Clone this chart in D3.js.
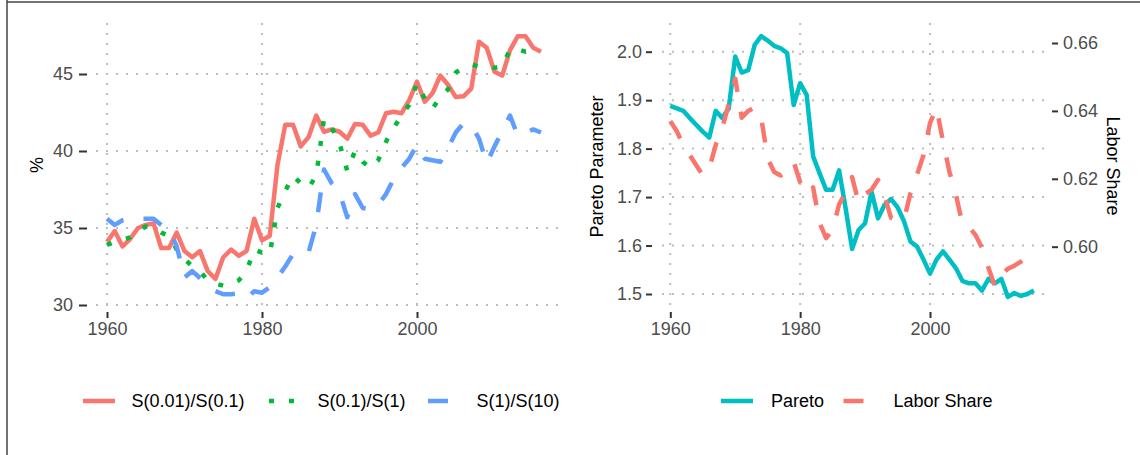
<!DOCTYPE html>
<html>
<head>
<meta charset="utf-8">
<script src="https://cdn.jsdelivr.net/npm/d3@7"></script>
<style>
  html, body { margin: 0; padding: 0; background: #fff; }
  svg { display: block; font-family: "Liberation Sans", Arial, Helvetica, sans-serif; }
</style>
</head>
<body>
<svg id="chart" width="1140" height="455"></svg>
<script>
// ---------- DATA ----------
const yearsLeft = d3.range(1960, 2017);
const s001_s01 = [34.1, 34.8, 33.8, 34.3, 35.0, 35.2, 35.3, 33.7, 33.7, 34.7,
  33.5, 33.1, 33.5, 32.2, 31.7, 33.1, 33.6, 33.2, 33.5, 35.6,
  34.2, 34.5, 39.1, 41.7, 41.7, 40.3, 40.9, 42.3, 41.25, 41.4,
  41.25, 40.8, 41.75, 41.7, 41.0, 41.2, 42.45, 42.55, 42.45, 43.3,
  44.5, 43.2, 43.75, 44.9, 44.3, 43.5, 43.55, 44.05, 47.1, 46.7,
  45.15, 44.9, 46.55, 47.45, 47.45, 46.7, 46.45];
const s01_s1 = [33.9, 34.1, 34.2, 34.4, 34.8, 35.1, 35.0, 34.7, 34.5, 33.6,
  33.0, 32.5, 32.2, 31.6, 31.4, 31.25, 31.4, 31.6, 32.2, 33.6,
  33.4, 33.3, 36.3, 37.4, 38.4, 37.9, 37.6, 38.4, 42.1, 41.5,
  40.5, 38.7, 40.0, 39.3, 38.9, 39.4, 40.6, 41.5, 42.3, 43.0,
  44.4, 43.4, 42.75, 43.5, 44.0, 45.1, 45.4, 45.6, 45.5, 45.5,
  45.4, 45.5, 46.6, 46.6, 46.45, 46.5, 46.5];
const s1_s10 = [35.6, 35.2, 35.5, 35.6, 35.6, 35.6, 35.6, 35.2, 34.9, 33.8,
  31.8, 32.2, 31.75, 31.3, 30.9, 30.7, 30.7, 30.75, 30.4, 30.9,
  30.8, 31.15, 31.8, 32.5, 33.3, 33.5, 33.4, 35.2, 38.8, 37.9,
  37.3, 35.7, 37.2, 36.3, 36.2, 36.5, 37.2, 38.2, 38.9, 39.5,
  40.4, 39.5, 39.4, 39.3, 40.2, 41.2, 41.8, 41.7, 40.8, 39.2,
  40.3, 41.3, 42.3, 41.0, 41.2, 41.4, 41.2];

const yearsPareto = d3.range(1960, 2017);
const pareto = [1.888, 1.883, 1.878, 1.863, 1.849, 1.835, 1.823, 1.878, 1.863, 1.883,
  1.990, 1.957, 1.962, 2.014, 2.032, 2.023, 2.012, 2.007, 1.997, 1.890,
  1.935, 1.911, 1.784, 1.749, 1.715, 1.715, 1.755, 1.677, 1.593, 1.632,
  1.646, 1.711, 1.656, 1.684, 1.696, 1.679, 1.650, 1.608, 1.598, 1.571,
  1.542, 1.571, 1.588, 1.571, 1.553, 1.527, 1.522, 1.522, 1.507, 1.531,
  1.522, 1.531, 1.494, 1.502, 1.496, 1.500, 1.507];
const yearsLabor = d3.range(1960, 2016);
const laborShare = [0.637, 0.634, 0.630, 0.627, 0.624, 0.621, 0.623, 0.630, 0.635, 0.642,
  0.6495, 0.638, 0.640, 0.641, 0.638, 0.626, 0.622, 0.621, 0.6225, 0.625,
  0.619, 0.6155, 0.6175, 0.607, 0.6025, 0.605, 0.6125, 0.616, 0.6205, 0.613,
  0.6155, 0.6168, 0.6197, 0.615, 0.6085, 0.6077, 0.608, 0.6158, 0.6212, 0.627,
  0.6364, 0.641, 0.631, 0.622, 0.6153, 0.6065, 0.6058, 0.6035, 0.5997, 0.5938,
  0.5883, 0.5918, 0.5935, 0.5944, 0.5956, 0.597];

const xTicks = [1960, 1980, 2000];
const pctTicks = [30, 35, 40, 45];
const paretoTicks = [1.5, 1.6, 1.7, 1.8, 1.9, 2.0];
const laborTicks = [0.60, 0.62, 0.64, 0.66];

const leftSeries = [
  { name: "S(0.01)/S(0.1)", values: s001_s01, color: "#F8766D", dash: null },
  { name: "S(0.1)/S(1)", values: s01_s1, color: "#00BA38", dash: "5,15" },
  { name: "S(1)/S(10)", values: s1_s10, color: "#619CFF", dash: "20,20" }
];

// ---------- SETUP ----------
const svg = d3.select("#chart");
const FONT = 18;
const LW = 4.5;
const gridColor = "#bdbdbd";
const tickColor = "#333333";
const labelColor = "#4d4d4d";

// outer frame lines
svg.append("line").attr("x1", 7).attr("x2", 7).attr("y1", 0).attr("y2", 455)
  .attr("stroke", "#444").attr("stroke-width", 1.5);
svg.append("line").attr("x1", 7).attr("x2", 1140).attr("y1", 2).attr("y2", 2)
  .attr("stroke", "#444").attr("stroke-width", 1.5);

// ---------- LEFT PANEL ----------
const xL = d3.scaleLinear().domain([1960, 2000]).range([107, 417]);
const yL = d3.scaleLinear().domain([30, 45]).range([305, 74]);
const gL = svg.append("g");

gL.selectAll(".hg").data(pctTicks).join("line")
  .attr("x1", 96).attr("x2", 560).attr("y1", d => yL(d)).attr("y2", d => yL(d))
  .attr("stroke", gridColor).attr("stroke-width", 2).attr("stroke-dasharray", "2,8");
gL.selectAll(".vg").data(xTicks).join("line")
  .attr("x1", d => xL(d)).attr("x2", d => xL(d)).attr("y1", 23).attr("y2", 307)
  .attr("stroke", gridColor).attr("stroke-width", 2).attr("stroke-dasharray", "2,8");

// y axis
const yAxisL = d3.axisLeft(yL).tickValues(pctTicks).tickSize(8).tickPadding(6).tickFormat(d3.format("d"));
const gyL = gL.append("g").attr("transform", "translate(87,0)").call(yAxisL);
gyL.select(".domain").remove();
gyL.selectAll(".tick line").attr("stroke", tickColor).attr("stroke-width", 2);
gyL.selectAll(".tick text").attr("fill", labelColor).attr("font-size", FONT).attr("font-family", null);

// x axis
const xAxisL = d3.axisBottom(xL).tickValues(xTicks).tickSize(6).tickPadding(4).tickFormat(d3.format("d"));
const gxL = gL.append("g").attr("transform", "translate(0,312)").call(xAxisL);
gxL.select(".domain").remove();
gxL.selectAll(".tick line").attr("stroke", tickColor).attr("stroke-width", 2);
gxL.selectAll(".tick text").attr("fill", labelColor).attr("font-size", FONT).attr("font-family", null);

gL.append("text").attr("transform", "translate(37,165) rotate(-90)")
  .attr("text-anchor", "middle").attr("dominant-baseline", "central")
  .attr("font-size", FONT).attr("fill", "#000").text("%");

const lineL = d3.line().x((d, i) => xL(yearsLeft[i])).y(d => yL(d));
leftSeries.forEach(s => {
  gL.append("path").datum(s.values).attr("d", lineL)
    .attr("fill", "none").attr("stroke", s.color).attr("stroke-width", LW)
    .attr("stroke-linejoin", "round").attr("stroke-linecap", "butt")
    .attr("stroke-dasharray", s.dash);
});

// left legend (clipped like the reference)
svg.append("clipPath").attr("id", "clipL").append("rect")
  .attr("x", 0).attr("y", 360).attr("width", 561).attr("height", 80);
const legL = svg.append("g").attr("clip-path", "url(#clipL)");
const legLX = [83, 269, 428];
leftSeries.forEach((s, i) => {
  legL.append("line").attr("x1", legLX[i]).attr("x2", legLX[i] + 32)
    .attr("y1", 401).attr("y2", 401)
    .attr("stroke", s.color).attr("stroke-width", LW).attr("stroke-dasharray", s.dash);
  legL.append("text").attr("x", legLX[i] + 48.5).attr("y", 401)
    .attr("dominant-baseline", "central").attr("font-size", FONT).attr("fill", "#000")
    .text(s.name);
});

// ---------- RIGHT PANEL ----------
const xR = d3.scaleLinear().domain([1960, 2000]).range([670.3, 930]);
const yP = d3.scaleLinear().domain([1.5, 2.0]).range([294, 51.7]);
const yS = d3.scaleLinear().domain([0.60, 0.66]).range([246.7, 43]);
const gR = svg.append("g");

gR.selectAll(".hg").data(paretoTicks).join("line")
  .attr("x1", 662).attr("x2", 1045).attr("y1", d => yP(d)).attr("y2", d => yP(d))
  .attr("stroke", gridColor).attr("stroke-width", 2).attr("stroke-dasharray", "2,8");
gR.selectAll(".vg").data(xTicks).join("line")
  .attr("x1", d => xR(d)).attr("x2", d => xR(d)).attr("y1", 23).attr("y2", 307)
  .attr("stroke", gridColor).attr("stroke-width", 2).attr("stroke-dasharray", "2,8");

const yAxisP = d3.axisLeft(yP).tickValues(paretoTicks).tickSize(6).tickPadding(4).tickFormat(d3.format(".1f"));
const gyP = gR.append("g").attr("transform", "translate(652,0)").call(yAxisP);
gyP.select(".domain").remove();
gyP.selectAll(".tick line").attr("stroke", tickColor).attr("stroke-width", 2);
gyP.selectAll(".tick text").attr("fill", labelColor).attr("font-size", FONT).attr("font-family", null);

const yAxisS = d3.axisRight(yS).tickValues(laborTicks).tickSize(6).tickPadding(5).tickFormat(d3.format(".2f"));
const gyS = gR.append("g").attr("transform", "translate(1052,0)").call(yAxisS);
gyS.select(".domain").remove();
gyS.selectAll(".tick line").attr("stroke", tickColor).attr("stroke-width", 2);
gyS.selectAll(".tick text").attr("fill", labelColor).attr("font-size", FONT).attr("font-family", null);

const xAxisR = d3.axisBottom(xR).tickValues(xTicks).tickSize(6).tickPadding(4).tickFormat(d3.format("d"));
const gxR = gR.append("g").attr("transform", "translate(0,312)").call(xAxisR);
gxR.select(".domain").remove();
gxR.selectAll(".tick line").attr("stroke", tickColor).attr("stroke-width", 2);
gxR.selectAll(".tick text").attr("fill", labelColor).attr("font-size", FONT).attr("font-family", null);

gR.append("text").attr("transform", "translate(597,166.5) rotate(-90)")
  .attr("text-anchor", "middle").attr("dominant-baseline", "central")
  .attr("font-size", FONT).attr("fill", "#000").text("Pareto Parameter");
gR.append("text").attr("transform", "translate(1113,166) rotate(90)")
  .attr("text-anchor", "middle").attr("dominant-baseline", "central")
  .attr("font-size", FONT).attr("fill", "#000").text("Labor Share");

const lineP = d3.line().x((d, i) => xR(yearsPareto[i])).y(d => yP(d));
const lineS = d3.line().x((d, i) => xR(yearsLabor[i])).y(d => yS(d));
gR.append("path").datum(pareto).attr("d", lineP)
  .attr("fill", "none").attr("stroke", "#00BFC4").attr("stroke-width", LW)
  .attr("stroke-linejoin", "round");
gR.append("path").datum(laborShare).attr("d", lineS)
  .attr("fill", "none").attr("stroke", "#F8766D").attr("stroke-width", LW)
  .attr("stroke-linejoin", "round").attr("stroke-dasharray", "20,20");

// right legend
const rightLegend = [
  { name: "Pareto", color: "#00BFC4", dash: null, x: 721 },
  { name: "Labor Share", color: "#F8766D", dash: "20,20", x: 843.5 }
];
rightLegend.forEach(s => {
  svg.append("line").attr("x1", s.x).attr("x2", s.x + 32).attr("y1", 401).attr("y2", 401)
    .attr("stroke", s.color).attr("stroke-width", LW).attr("stroke-dasharray", s.dash);
  svg.append("text").attr("x", s.x + 50).attr("y", 401)
    .attr("dominant-baseline", "central").attr("font-size", FONT).attr("fill", "#000")
    .text(s.name);
});
</script>
</body>
</html>
